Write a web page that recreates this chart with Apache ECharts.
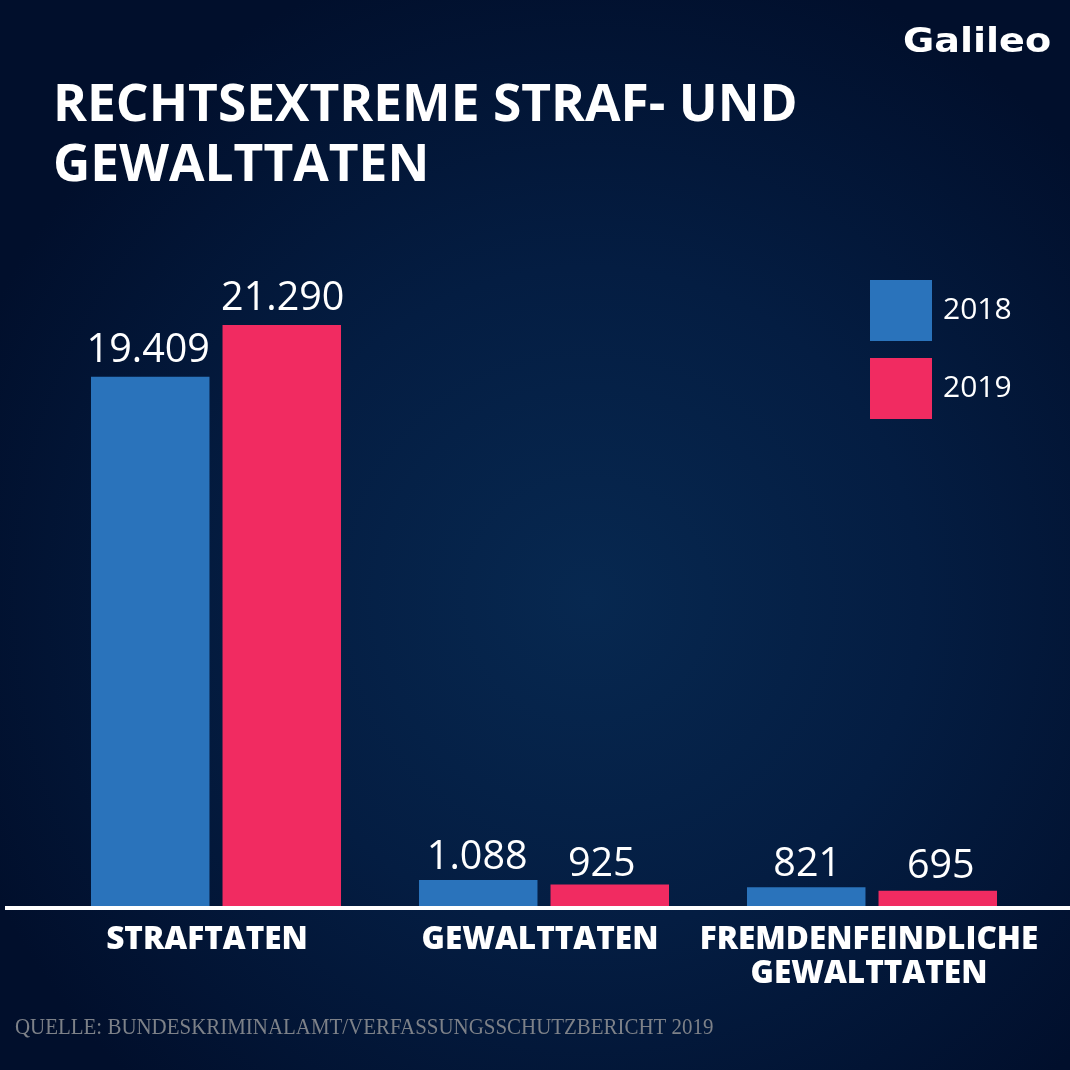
<!DOCTYPE html>
<html>
<head>
<meta charset="utf-8">
<style>html,body{margin:0;padding:0;background:#021431}#chart{width:1070px;height:1070px}</style>
<script src="https://cdn.jsdelivr.net/npm/echarts@6/dist/echarts.min.js"></script>
</head>
<body>
<div id="chart"></div>
<script>
const categories = ['STRAFTATEN', 'GEWALTTATEN', 'FREMDENFEINDLICHE\nGEWALTTATEN'];
const values2018 = [19409, 1088, 821];
const values2019 = [21290, 925, 695];
const years = ['2018', '2019'];
const titleLines = 'RECHTSEXTREME STRAF- UND\nGEWALTTATEN';
const sourceText = 'QUELLE: BUNDESKRIMINALAMT/VERFASSUNGSSCHUTZBERICHT 2019';

// the labels in the picture were placed by hand
const labelOffsets2018 = [[-2, 0], [-1, 4], [1, 3]];
const labelOffsets2019 = [[1, 0], [-8, 6], [3, 2]];

const font = '"Open Sans"';
const chart = echarts.init(document.getElementById('chart'), null, {renderer: 'canvas'});

// 21.290 -> 1.234 like the picture
const fmt = p => String(p.value).replace(/\B(?=(\d{3})+$)/g, '.');

const barLabel = {
    show: true,
    position: 'top',
    distance: 6,
    color: '#ffffff',
    fontFamily: font,
    fontSize: 39.5,
    formatter: fmt
};

const withOffsets = (values, offsets) => values.map((v, i) => ({value: v, label: {offset: offsets[i]}}));

const catStyle = pad => ({color: '#fff', fontFamily: font, fontWeight: 800, fontSize: 31.5, lineHeight: 34, padding: [0, pad, 0, 0]});

chart.setOption({
    animation: false,
    backgroundColor: new echarts.graphic.RadialGradient(0.55, 0.56, 0.62, [
        {offset: 0, color: '#072850'},
        {offset: 0.5, color: '#041d42'},
        {offset: 1, color: '#010f2c'}
    ]),
    title: {
        text: titleLines,
        left: 48,
        top: 71,
        textStyle: {color: '#ffffff', fontFamily: font, fontWeight: 700, fontSize: 51.5, lineHeight: 60}
    },
    legend: {
        orient: 'vertical',
        left: 865,
        top: 275,
        itemWidth: 62,
        itemHeight: 61,
        itemGap: 17,
        icon: 'rect',
        textStyle: {color: '#ffffff', fontFamily: font, fontSize: 30, padding: [0, 0, 0, 6]},
        data: years
    },
    grid: {left: 52, right: 34, top: 305.5, height: 600.5},
    xAxis: {
        type: 'category',
        data: categories,
        axisLine: {show: false},
        axisTick: {show: false},
        axisLabel: {
            interval: 0,
            margin: 17,
            color: '#ffffff',
            formatter: v => {
                const style = v === categories[0] ? 'a' : v === categories[1] ? 'b' : 'c';
                return v.split('\n').map(s => '{' + style + '|' + s + '}').join('\n');
            },
            rich: {a: catStyle(18), b: catStyle(8), c: catStyle(6)}
        }
    },
    // bars in the picture do not start at zero, they fit a baseline near 140
    yAxis: {type: 'value', min: 140, max: 22000, show: false},
    series: [
        {name: years[0], type: 'bar', barWidth: 118.5, barGap: '11%', itemStyle: {color: '#2a73bb'}, label: barLabel, data: withOffsets(values2018, labelOffsets2018)},
        {name: years[1], type: 'bar', barWidth: 118.5, itemStyle: {color: '#f12b61'}, label: barLabel, data: withOffsets(values2019, labelOffsets2019)}
    ],
    graphic: [
        {type: 'rect', left: 5, top: 906, shape: {width: 1065, height: 4}, style: {fill: '#ffffff'}},
        {type: 'text', x: 15, y: 1016, scaleX: 0.91, style: {text: sourceText, fill: '#7d8188', font: '23px "Liberation Serif"'}},
        {type: 'text', x: 903, y: 26, scaleX: 1.19, scaleY: 1.05, style: {text: 'Galileo', fill: '#ffffff', font: '700 32px "DejaVu Sans"'}}
    ]
});
</script>
</body>
</html>
